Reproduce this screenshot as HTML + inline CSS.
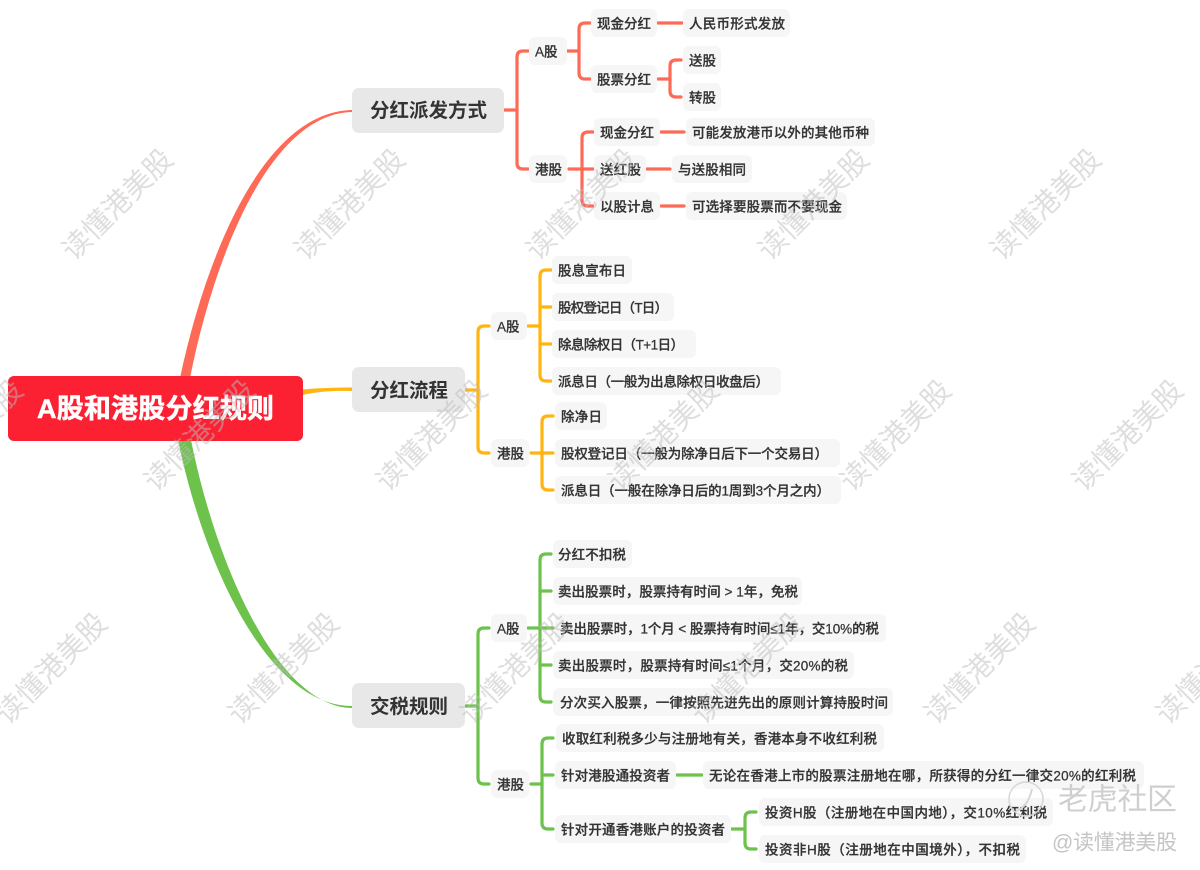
<!DOCTYPE html>
<html><head><meta charset="utf-8"><style>
html,body{margin:0;padding:0;background:#fff;width:1200px;height:870px;overflow:hidden}
svg{display:block;filter:blur(.3px)}
text{font-family:"Liberation Sans","Noto Sans CJK SC",sans-serif;}
.t text{font-size:13.5px;font-weight:500;fill:#333;stroke:#333;stroke-width:.25;dominant-baseline:central}
.n rect{fill:#f6f6f6}
.m rect{fill:#e8e8e8}
.mt{font-size:19.5px;font-weight:700;fill:#333;dominant-baseline:central}
.l{fill:none;stroke-width:3.2;stroke-linecap:round;stroke-linejoin:round}
.w text{font-size:28.5px;fill:#bdbdbd;opacity:.5;text-anchor:middle;dominant-baseline:central}
</style></head><body>
<svg width="1200" height="870" viewBox="0 0 1200 870" xmlns="http://www.w3.org/2000/svg">
<!-- main links -->
<path d="M180 378 C205 260 262 112 352 110 L352 112 C268 114 213 262 190 378 Z" fill="#ff6a57"/>
<path d="M303 389.5 C318 388 335 387.5 352 387.5 L352 391 C335 390.5 320 391 303 395 Z" fill="#ffb40f"/>
<path d="M178 440 C205 570 270 706 352 706 L352 708 C278 707 216 565 191 440 Z" fill="#6cc24a"/>

<!-- red links -->
<g class="l" stroke="#ff6a57">
<path d="M504 110 H517"/>
<path d="M528 51 H523 Q517 51 517 57 V163 Q517 169 523 169 H528"/>
<path d="M567 51 H579"/>
<path d="M590 23 H585 Q579 23 579 29 V73 Q579 79 585 79 H590"/>
<path d="M658 23 H682"/>
<path d="M658 79 H670"/>
<path d="M681 60 H676 Q670 60 670 66 V91 Q670 97 676 97 H681"/>
<path d="M569 169 H593"/>
<path d="M593 132 H588 Q582 132 582 138 V200 Q582 206 588 206 H593"/>
<path d="M661 132 H684"/>
<path d="M647 169 H670"/>
<path d="M661 206 H684"/>
</g>
<!-- orange links -->
<g class="l" stroke="#ffb40f">
<path d="M465 390 H478"/>
<path d="M489 326 H484 Q478 326 478 332 V447 Q478 453 484 453 H489"/>
<path d="M528 326 H540"/>
<path d="M551 270 H546 Q540 270 540 276 V375 Q540 381 546 381 H551"/>
<path d="M540 307 Q540 307 546 307 H551"/>
<path d="M540 344 Q540 344 546 344 H551"/>
<path d="M531 453 H553"/>
<path d="M553 416 H548 Q542 416 542 422 V484 Q542 490 548 490 H553"/>
</g>
<!-- green links -->
<g class="l" stroke="#6cc24a">
<path d="M465 706 H478"/>
<path d="M489 628 H484 Q478 628 478 634 V778 Q478 784 484 784 H489"/>
<path d="M528 628 H553"/>
<path d="M551 554 H546 Q540 554 540 560 V696 Q540 702 546 702 H551"/>
<path d="M540 591 H551"/>
<path d="M540 665 H551"/>
<path d="M531 784 H542"/>
<path d="M553 738 H548 Q542 738 542 744 V823 Q542 829 548 829 H553"/>
<path d="M542 775 H553"/>
<path d="M677 775 H702"/>
<path d="M732 829 H745"/>
<path d="M756 812 H751 Q745 812 745 818 V843 Q745 849 751 849 H756"/>
</g>

<!-- root -->
<rect x="8" y="376" width="295" height="65" rx="6" fill="#fb2133"/>
<text x="37" y="409" font-size="27" font-weight="700" fill="#fff" stroke="#fff" stroke-width=".5" dominant-baseline="central" textLength="237">A股和港股分红规则</text>

<!-- main nodes -->
<g class="m">
<rect x="352" y="88" width="152" height="45" rx="7"/>
<rect x="352" y="367" width="113" height="45" rx="7"/>
<rect x="352" y="683" width="113" height="45" rx="7"/>
</g>
<text class="mt" x="370" y="111" textLength="117">分红派发方式</text>
<text class="mt" x="370" y="391" textLength="78">分红流程</text>
<text class="mt" x="370" y="707" textLength="78">交税规则</text>

<!-- node backgrounds -->
<g class="n">
<rect x="529" y="37" width="38" height="28" rx="6"/>
<rect x="591" y="9" width="66" height="28" rx="6"/>
<rect x="683" y="9" width="107" height="28" rx="6"/>
<rect x="591" y="65" width="66" height="28" rx="6"/>
<rect x="683" y="46" width="38" height="28" rx="6"/>
<rect x="683" y="83" width="38" height="28" rx="6"/>
<rect x="529" y="155" width="38" height="28" rx="6"/>
<rect x="594" y="118" width="66" height="28" rx="6"/>
<rect x="686" y="118" width="189" height="28" rx="6"/>
<rect x="594" y="155" width="52" height="28" rx="6"/>
<rect x="672" y="155" width="80" height="28" rx="6"/>
<rect x="594" y="192" width="66" height="28" rx="6"/>
<rect x="686" y="192" width="161" height="28" rx="6"/>

<rect x="491" y="312" width="36" height="28" rx="6"/>
<rect x="552" y="256" width="80" height="28" rx="6"/>
<rect x="552" y="293" width="122" height="28" rx="6"/>
<rect x="552" y="330" width="144" height="28" rx="6"/>
<rect x="552" y="367" width="229" height="28" rx="6"/>
<rect x="491" y="439" width="38" height="28" rx="6"/>
<rect x="555" y="402" width="52" height="28" rx="6"/>
<rect x="555" y="439" width="285" height="28" rx="6"/>
<rect x="555" y="476" width="286" height="28" rx="6"/>

<rect x="491" y="614" width="36" height="28" rx="6"/>
<rect x="553" y="540" width="79" height="28" rx="6"/>
<rect x="553" y="577" width="249" height="28" rx="6"/>
<rect x="555" y="614" width="331" height="28" rx="6"/>
<rect x="553" y="651" width="301" height="28" rx="6"/>
<rect x="553" y="688" width="340" height="28" rx="6"/>
<rect x="491" y="770" width="38" height="28" rx="6"/>
<rect x="556" y="724" width="328" height="28" rx="6"/>
<rect x="555" y="761" width="121" height="28" rx="6"/>
<rect x="703" y="761" width="441" height="28" rx="6"/>
<rect x="555" y="815" width="176" height="28" rx="6"/>
<rect x="759" y="798" width="294" height="28" rx="6"/>
<rect x="759" y="835" width="267" height="28" rx="6"/>
</g>

<!-- labels -->
<g class="t" transform="translate(0 1)">
<text x="535" y="51">A股</text>
<text x="597" y="23" textLength="54">现金分红</text>
<text x="689" y="23" textLength="96">人民币形式发放</text>
<text x="597" y="79" textLength="54">股票分红</text>
<text x="689" y="60" textLength="27">送股</text>
<text x="689" y="97" textLength="27">转股</text>
<text x="535" y="169" textLength="27">港股</text>
<text x="600" y="132" textLength="54">现金分红</text>
<text x="692" y="132" textLength="177">可能发放港币以外的其他币种</text>
<text x="600" y="169" textLength="41">送红股</text>
<text x="678" y="169" textLength="68">与送股相同</text>
<text x="600" y="206" textLength="54">以股计息</text>
<text x="692" y="206" textLength="150">可选择要股票而不要现金</text>

<text x="497" y="326">A股</text>
<text x="558" y="270" textLength="68">股息宣布日</text>
<text x="558" y="307" textLength="110">股权登记日（T日）</text>
<text x="558" y="344" textLength="126">除息除权日（T+1日）</text>
<text x="558" y="381" textLength="211">派息日（一般为出息除权日收盘后）</text>
<text x="497" y="453" textLength="27">港股</text>
<text x="561" y="416" textLength="41">除净日</text>
<text x="561" y="453" textLength="267">股权登记日（一般为除净日后下一个交易日）</text>
<text x="561" y="490" textLength="269">派息日（一般在除净日后的1周到3个月之内）</text>

<text x="497" y="628">A股</text>
<text x="558" y="554" textLength="68">分红不扣税</text>
<text x="558" y="591" textLength="240">卖出股票时，股票持有时间 &gt; 1年，免税</text>
<text x="560" y="628" textLength="319">卖出股票时，1个月 &lt; 股票持有时间≤1年，交10%的税</text>
<text x="558" y="665" textLength="290">卖出股票时，股票持有时间≤1个月，交20%的税</text>
<text x="560" y="702" textLength="328">分次买入股票，一律按照先进先出的原则计算持股时间</text>
<text x="497" y="784" textLength="27">港股</text>
<text x="562" y="738" textLength="315">收取红利税多少与注册地有关，香港本身不收红利税</text>
<text x="561" y="775" textLength="109">针对港股通投资者</text>
<text x="709" y="775" textLength="427">无论在香港上市的股票注册地在哪，所获得的分红一律交20%的红利税</text>
<text x="561" y="829" textLength="164">针对开通香港账户的投资者</text>
<text x="765" y="812" textLength="282">投资H股（注册地在中国内地），交10%红利税</text>
<text x="765" y="849" textLength="255">投资非H股（注册地在中国境外），不扣税</text>
</g>

<!-- watermarks -->
<g class="w">
<text transform="translate(118 205) rotate(-45)">读懂港美股</text>
<text transform="translate(350 205) rotate(-45)">读懂港美股</text>
<text transform="translate(582 205) rotate(-45)">读懂港美股</text>
<text transform="translate(814 205) rotate(-45)">读懂港美股</text>
<text transform="translate(1046 205) rotate(-45)">读懂港美股</text>
<text transform="translate(-32 436) rotate(-45)">读懂港美股</text>
<text transform="translate(200 436) rotate(-45)">读懂港美股</text>
<text transform="translate(432 436) rotate(-45)">读懂港美股</text>
<text transform="translate(664 436) rotate(-45)">读懂港美股</text>
<text transform="translate(896 436) rotate(-45)">读懂港美股</text>
<text transform="translate(1128 436) rotate(-45)">读懂港美股</text>
<text transform="translate(52 669) rotate(-45)">读懂港美股</text>
<text transform="translate(284 669) rotate(-45)">读懂港美股</text>
<text transform="translate(516 669) rotate(-45)">读懂港美股</text>
<text transform="translate(748 669) rotate(-45)">读懂港美股</text>
<text transform="translate(980 669) rotate(-45)">读懂港美股</text>
<text transform="translate(1212 669) rotate(-45)">读懂港美股</text>
</g>

<!-- bottom-right logo -->
<circle cx="1026" cy="799" r="17" fill="none" stroke="#d6d6d6" stroke-width="1.5"/>
<path d="M1016 811 Q1028 807 1032 789" fill="none" stroke="#d6d6d6" stroke-width="2"/>
<text x="1058" y="800" font-size="30" fill="#cfcfcf" dominant-baseline="central" textLength="119">老虎社区</text>
<text x="1052" y="843" font-size="21" fill="#c4c4c4" dominant-baseline="central" textLength="125">@读懂港美股</text>
</svg>
</body></html>
